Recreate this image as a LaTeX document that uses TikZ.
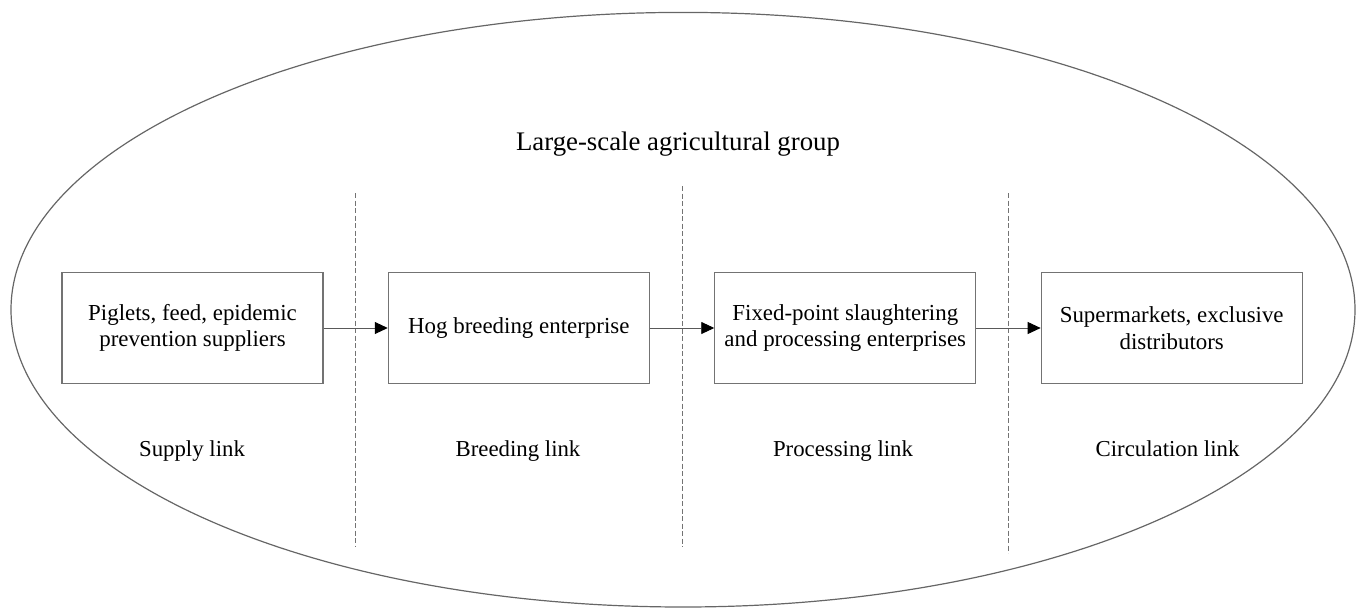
\documentclass[tikz,border=0pt]{standalone}
\usepackage{fontspec}
\setmainfont{Liberation Serif}
\usetikzlibrary{arrows.meta}
\begin{document}
\begin{tikzpicture}[x=1pt,y=-1pt,
  box/.style={draw=black!55, line width=1.1pt, minimum width=261pt, minimum height=110.6pt,
    align=center, inner sep=0pt, font=\fontsize{22.9pt}{26.7pt}\selectfont},
  lbl/.style={anchor=base, inner sep=0pt, font=\fontsize{22.8pt}{26.7pt}\selectfont},
  ttl/.style={anchor=base, inner sep=0pt, font=\fontsize{26.8pt}{32pt}\selectfont},
  sep/.style={draw=black!55, line width=0.9pt, dash pattern=on 5pt off 2.5pt},
  arr/.style={draw=black!65, line width=0.9pt, -{Triangle[length=13pt,width=12pt,color=black]}},
  outer/.style={draw=black!60, line width=1.2pt}]
\useasboundingbox (0,0) rectangle (1360,608);
\draw[outer] (683,309.7) ellipse [x radius=672pt, y radius=297.3pt];
\node[ttl] (title) at (678,150) {Large-scale agricultural group};
\node[box] (b1) at (192.5,328) {Piglets, feed, epidemic\\prevention suppliers};
\node[box] (b2) at (518.8,328) {Hog breeding enterprise};
\node[box] (b3) at (845.3,328) {Fixed-point slaughtering\\and processing enterprises};
\node[box] (b4) at (1171.7,328) {Supermarkets, exclusive\\distributors};
\coordinate (d1t) at (355.7,193); \coordinate (d1b) at (355.7,547);
\coordinate (d2t) at (682,186);   \coordinate (d2b) at (682,547);
\coordinate (d3t) at (1008.7,193); \coordinate (d3b) at (1008.7,553);
\draw[sep] (d1t) -- (d1b);
\draw[sep] (d2t) -- (d2b);
\draw[sep] (d3t) -- (d3b);
\draw[arr] (b1.east) -- (b2.west);
\draw[arr] (b2.east) -- (b3.west);
\draw[arr] (b3.east) -- (b4.west);
\node[lbl] (l1) at (192,456) {Supply link};
\node[lbl] (l2) at (518,456) {Breeding link};
\node[lbl] (l3) at (843,456) {Processing link};
\node[lbl] (l4) at (1167.5,456) {Circulation link};
\end{tikzpicture}
\end{document}
